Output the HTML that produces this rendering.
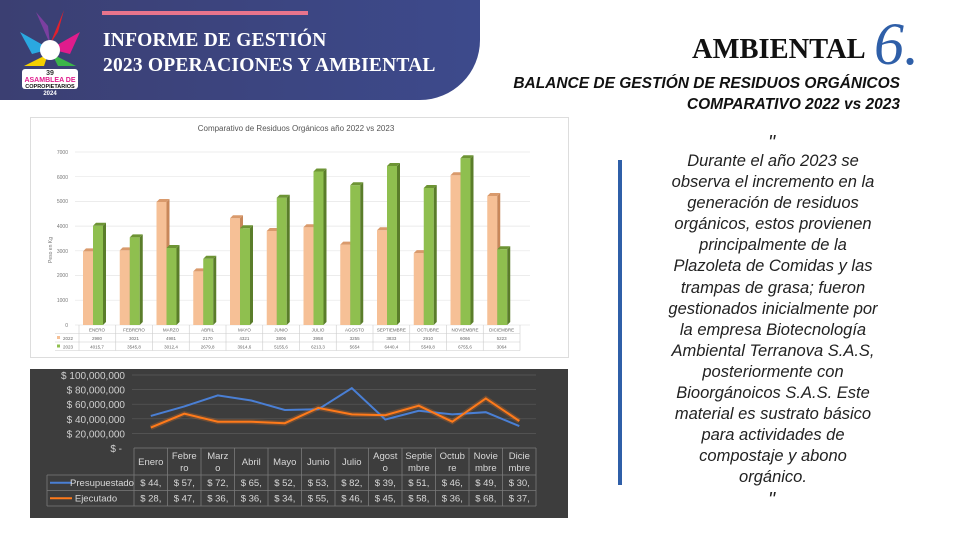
<!DOCTYPE html>
<html><head><meta charset="utf-8"><style>
*{margin:0;padding:0;box-sizing:border-box}
body{width:961px;height:536px;background:#fff;position:relative;overflow:hidden;font-family:"Liberation Sans",sans-serif}
.hdr{position:absolute;left:0;top:0;width:480px;height:100px;background:linear-gradient(90deg,#3b3f72,#3d4a8c);border-bottom-right-radius:60px}
.pink{position:absolute;left:102px;top:11px;width:206px;height:4px;background:#e8748c}
.ht{position:absolute;left:103px;top:28px;color:#fff;font-family:"Liberation Serif",serif;font-weight:bold;font-size:19.5px;line-height:25px;letter-spacing:.2px}
.amb{position:absolute;left:692px;top:34px;font-family:"Liberation Serif",serif;font-weight:bold;font-size:28.5px;color:#111}
.six{position:absolute;left:874px;top:10px;font-family:"Liberation Serif",serif;font-style:italic;font-size:60px;color:#2f5fa8}
.sub{position:absolute;right:61px;top:73px;text-align:right;font-style:italic;font-weight:bold;font-size:15.5px;line-height:21px;color:#111}
.q{position:absolute;left:643px;width:260px;top:151px;text-align:center;font-style:italic;font-size:16.5px;line-height:21.1px;color:#222;white-space:nowrap}
.bar{position:absolute;left:618px;top:160px;width:4px;height:325px;background:#2f5fa8}
.qm{position:absolute;font-style:italic;font-size:20px;color:#222}
</style></head><body>
<div class="hdr"></div>
<div class="pink"></div>
<svg style="position:absolute;left:14px;top:4px" width="72" height="92">
<path d="M36 40 L22 8 L34 22Z" fill="#7b3fa0"/><path d="M36 40 L50 6 L44 28Z" fill="#e2202c"/>
<path d="M36 45 L6 28 L18 50Z" fill="#2aa8e0"/><path d="M36 45 L66 28 L56 50Z" fill="#e01c8c"/>
<path d="M34 50 L10 62 L30 62Z" fill="#f5d000"/><path d="M38 50 L62 62 L44 62Z" fill="#3bb54a"/>
<circle cx="36" cy="46" r="10" fill="#fff"/>
<rect x="8" y="65" width="56" height="20" fill="#fff" rx="3"/>
<text x="36" y="71" font-size="7" fill="#333" text-anchor="middle" font-weight="bold">39</text>
<text x="36" y="78" font-size="7" fill="#e01c8c" text-anchor="middle" font-weight="bold">ASAMBLEA DE</text>
<text x="36" y="84" font-size="5.5" fill="#111" text-anchor="middle" font-weight="bold">COPROPIETARIOS</text>
<text x="36" y="91" font-size="6" fill="#fff" text-anchor="middle" font-weight="bold">2024</text>
</svg>
<div class="ht">INFORME DE GESTIÓN<br>2023 OPERACIONES Y AMBIENTAL</div>
<div class="amb">AMBIENTAL</div><div class="six">6.</div>
<div class="sub">BALANCE DE GESTIÓN DE RESIDUOS ORGÁNICOS<br>COMPARATIVO 2022 vs 2023</div>
<div class="qm" style="left:768px;top:132px">"</div>
<div class="bar"></div>
<div class="q">Durante el año 2023 se<br>observa el incremento en la<br>generación de residuos<br>orgánicos, estos provienen<br>principalmente de la<br>Plazoleta de Comidas y las<br>trampas de grasa; fueron<br>gestionados inicialmente por<br>la empresa Biotecnología<br>Ambiental Terranova S.A.S,<br>posteriormente con<br>Bioorgánoicos S.A.S. Este<br>material es sustrato básico<br>para actividades de<br>compostaje y abono<br>orgánico.</div>
<div class="qm" style="left:768px;top:489px">"</div>

<svg style="position:absolute;left:0;top:0" width="961" height="536" font-family="Liberation Sans,sans-serif">
<rect x="30.5" y="117.5" width="538" height="240" fill="#fff" stroke="#ddd"/>
<text x="296" y="131" font-size="8" fill="#555" text-anchor="middle">Comparativo de Residuos Orgánicos año 2022 vs 2023</text>
<g stroke="#e6e6e6" stroke-width="0.7">
<line x1="75" x2="530" y1="152" y2="152"/><line x1="75" x2="530" y1="176.7" y2="176.7"/><line x1="75" x2="530" y1="201.4" y2="201.4"/><line x1="75" x2="530" y1="226.1" y2="226.1"/><line x1="75" x2="530" y1="250.8" y2="250.8"/><line x1="75" x2="530" y1="275.5" y2="275.5"/><line x1="75" x2="530" y1="300.2" y2="300.2"/><line x1="75" x2="530" y1="325" y2="325"/>
</g>
<g font-size="5" fill="#777" text-anchor="end">
<text x="68" y="154">7000</text><text x="68" y="179">6000</text><text x="68" y="203">5000</text><text x="68" y="228">4000</text><text x="68" y="253">3000</text><text x="68" y="277">2000</text><text x="68" y="302">1000</text><text x="68" y="327">0</text>
</g>
<text x="52" y="250" font-size="5" fill="#777" transform="rotate(-90 52 250)" text-anchor="middle">Peso en Kg</text>
<g>
<g transform="translate(79,0)"><rect x="4" y="251.4" width="10" height="73.6" fill="#f6c096"/><path d="M14 251.4 l3 -3 v73.6 l-3 3z" fill="#c8875a"/><path d="M4 251.4 l3 -3 h10 l-3 3z" fill="#d99a6c"/><rect x="14" y="225.8" width="10" height="99.2" fill="#8fbf4f"/><path d="M24 225.8 l3 -3 v99.2 l-3 3z" fill="#5a7d2a"/><path d="M14 225.8 l3 -3 h10 l-3 3z" fill="#6d9434"/></g>
<g transform="translate(115.75,0)"><rect x="4" y="250.4" width="10" height="74.6" fill="#f6c096"/><path d="M14 250.4 l3 -3 v74.6 l-3 3z" fill="#c8875a"/><path d="M4 250.4 l3 -3 h10 l-3 3z" fill="#d99a6c"/><rect x="14" y="237.4" width="10" height="87.6" fill="#8fbf4f"/><path d="M24 237.4 l3 -3 v87.6 l-3 3z" fill="#5a7d2a"/><path d="M14 237.4 l3 -3 h10 l-3 3z" fill="#6d9434"/></g>
<g transform="translate(152.5,0)"><rect x="4" y="202" width="10" height="123" fill="#f6c096"/><path d="M14 202 l3 -3 v123 l-3 3z" fill="#c8875a"/><path d="M4 202 l3 -3 h10 l-3 3z" fill="#d99a6c"/><rect x="14" y="248" width="10" height="77" fill="#8fbf4f"/><path d="M24 248 l3 -3 v77 l-3 3z" fill="#5a7d2a"/><path d="M14 248 l3 -3 h10 l-3 3z" fill="#6d9434"/></g>
<g transform="translate(189.25,0)"><rect x="4" y="271.4" width="10" height="53.6" fill="#f6c096"/><path d="M14 271.4 l3 -3 v53.6 l-3 3z" fill="#c8875a"/><path d="M4 271.4 l3 -3 h10 l-3 3z" fill="#d99a6c"/><rect x="14" y="258.8" width="10" height="66.2" fill="#8fbf4f"/><path d="M24 258.8 l3 -3 v66.2 l-3 3z" fill="#5a7d2a"/><path d="M14 258.8 l3 -3 h10 l-3 3z" fill="#6d9434"/></g>
<g transform="translate(226,0)"><rect x="4" y="218.3" width="10" height="106.7" fill="#f6c096"/><path d="M14 218.3 l3 -3 v106.7 l-3 3z" fill="#c8875a"/><path d="M4 218.3 l3 -3 h10 l-3 3z" fill="#d99a6c"/><rect x="14" y="228.3" width="10" height="96.7" fill="#8fbf4f"/><path d="M24 228.3 l3 -3 v96.7 l-3 3z" fill="#5a7d2a"/><path d="M14 228.3 l3 -3 h10 l-3 3z" fill="#6d9434"/></g>
<g transform="translate(262.75,0)"><rect x="4" y="231" width="10" height="94" fill="#f6c096"/><path d="M14 231 l3 -3 v94 l-3 3z" fill="#c8875a"/><path d="M4 231 l3 -3 h10 l-3 3z" fill="#d99a6c"/><rect x="14" y="197.7" width="10" height="127.3" fill="#8fbf4f"/><path d="M24 197.7 l3 -3 v127.3 l-3 3z" fill="#5a7d2a"/><path d="M14 197.7 l3 -3 h10 l-3 3z" fill="#6d9434"/></g>
<g transform="translate(299.5,0)"><rect x="4" y="227.2" width="10" height="97.8" fill="#f6c096"/><path d="M14 227.2 l3 -3 v97.8 l-3 3z" fill="#c8875a"/><path d="M4 227.2 l3 -3 h10 l-3 3z" fill="#d99a6c"/><rect x="14" y="171.5" width="10" height="153.5" fill="#8fbf4f"/><path d="M24 171.5 l3 -3 v153.5 l-3 3z" fill="#5a7d2a"/><path d="M14 171.5 l3 -3 h10 l-3 3z" fill="#6d9434"/></g>
<g transform="translate(336.25,0)"><rect x="4" y="244.6" width="10" height="80.4" fill="#f6c096"/><path d="M14 244.6 l3 -3 v80.4 l-3 3z" fill="#c8875a"/><path d="M4 244.6 l3 -3 h10 l-3 3z" fill="#d99a6c"/><rect x="14" y="185.3" width="10" height="139.7" fill="#8fbf4f"/><path d="M24 185.3 l3 -3 v139.7 l-3 3z" fill="#5a7d2a"/><path d="M14 185.3 l3 -3 h10 l-3 3z" fill="#6d9434"/></g>
<g transform="translate(373,0)"><rect x="4" y="230.3" width="10" height="94.7" fill="#f6c096"/><path d="M14 230.3 l3 -3 v94.7 l-3 3z" fill="#c8875a"/><path d="M4 230.3 l3 -3 h10 l-3 3z" fill="#d99a6c"/><rect x="14" y="166" width="10" height="159" fill="#8fbf4f"/><path d="M24 166 l3 -3 v159 l-3 3z" fill="#5a7d2a"/><path d="M14 166 l3 -3 h10 l-3 3z" fill="#6d9434"/></g>
<g transform="translate(409.75,0)"><rect x="4" y="253.1" width="10" height="71.9" fill="#f6c096"/><path d="M14 253.1 l3 -3 v71.9 l-3 3z" fill="#c8875a"/><path d="M4 253.1 l3 -3 h10 l-3 3z" fill="#d99a6c"/><rect x="14" y="188" width="10" height="137" fill="#8fbf4f"/><path d="M24 188 l3 -3 v137 l-3 3z" fill="#5a7d2a"/><path d="M14 188 l3 -3 h10 l-3 3z" fill="#6d9434"/></g>
<g transform="translate(446.5,0)"><rect x="4" y="175.2" width="10" height="149.8" fill="#f6c096"/><path d="M14 175.2 l3 -3 v149.8 l-3 3z" fill="#c8875a"/><path d="M4 175.2 l3 -3 h10 l-3 3z" fill="#d99a6c"/><rect x="14" y="158.2" width="10" height="166.8" fill="#8fbf4f"/><path d="M24 158.2 l3 -3 v166.8 l-3 3z" fill="#5a7d2a"/><path d="M14 158.2 l3 -3 h10 l-3 3z" fill="#6d9434"/></g>
<g transform="translate(483.25,0)"><rect x="4" y="196" width="10" height="129" fill="#f6c096"/><path d="M14 196 l3 -3 v129 l-3 3z" fill="#c8875a"/><path d="M4 196 l3 -3 h10 l-3 3z" fill="#d99a6c"/><rect x="14" y="249.3" width="10" height="75.7" fill="#8fbf4f"/><path d="M24 249.3 l3 -3 v75.7 l-3 3z" fill="#5a7d2a"/><path d="M14 249.3 l3 -3 h10 l-3 3z" fill="#6d9434"/></g>
</g>
<g stroke="#ccc" stroke-width="0.6" fill="none">
<line x1="55" x2="520" y1="333.5" y2="333.5"/><line x1="55" x2="520" y1="342" y2="342"/><line x1="55" x2="520" y1="350.5" y2="350.5"/>
<line x1="79" x2="79" y1="325" y2="350.5"/><line x1="115.75" x2="115.75" y1="325" y2="350.5"/><line x1="152.5" x2="152.5" y1="325" y2="350.5"/><line x1="189.25" x2="189.25" y1="325" y2="350.5"/><line x1="226" x2="226" y1="325" y2="350.5"/><line x1="262.75" x2="262.75" y1="325" y2="350.5"/><line x1="299.5" x2="299.5" y1="325" y2="350.5"/><line x1="336.25" x2="336.25" y1="325" y2="350.5"/><line x1="373" x2="373" y1="325" y2="350.5"/><line x1="409.75" x2="409.75" y1="325" y2="350.5"/><line x1="446.5" x2="446.5" y1="325" y2="350.5"/><line x1="483.25" x2="483.25" y1="325" y2="350.5"/><line x1="520" x2="520" y1="325" y2="350.5"/>
</g>
<rect x="57" y="336" width="3" height="3" fill="#f6c096"/><rect x="57" y="344.5" width="3" height="3" fill="#8fbf4f"/>
<g font-size="4.5" fill="#666" text-anchor="middle">
<text x="68" y="340">2022</text><text x="68" y="348.5">2023</text>
<text x="97" y="331.5">ENERO</text><text x="134" y="331.5">FEBRERO</text><text x="171" y="331.5">MARZO</text><text x="207.6" y="331.5">ABRIL</text><text x="244.4" y="331.5">MAYO</text><text x="281" y="331.5">JUNIO</text><text x="318" y="331.5">JULIO</text><text x="354.6" y="331.5">AGOSTO</text><text x="391.4" y="331.5">SEPTIEMBRE</text><text x="428" y="331.5">OCTUBRE</text><text x="465" y="331.5">NOVIEMBRE</text><text x="501.6" y="331.5">DICIEMBRE</text>
<text x="97" y="340">2980</text><text x="134" y="340">3021</text><text x="171" y="340">4981</text><text x="207.6" y="340">2170</text><text x="244.4" y="340">4321</text><text x="281" y="340">3806</text><text x="318" y="340">3958</text><text x="354.6" y="340">3255</text><text x="391.4" y="340">3833</text><text x="428" y="340">2910</text><text x="465" y="340">6066</text><text x="501.6" y="340">5223</text>
<text x="97" y="348.5">4015,7</text><text x="134" y="348.5">3545,8</text><text x="171" y="348.5">3012,4</text><text x="207.6" y="348.5">2679,8</text><text x="244.4" y="348.5">3914,6</text><text x="281" y="348.5">5155,6</text><text x="318" y="348.5">6213,3</text><text x="354.6" y="348.5">5654</text><text x="391.4" y="348.5">6440,4</text><text x="428" y="348.5">5549,8</text><text x="465" y="348.5">6755,6</text><text x="501.6" y="348.5">3064</text>
</g>

<rect x="30" y="369" width="538" height="149" fill="#3d3d3d"/>
<g stroke="#5a5a5a" stroke-width="0.7">
<line x1="132" x2="536" y1="375" y2="375"/><line x1="132" x2="536" y1="389.6" y2="389.6"/><line x1="132" x2="536" y1="404.2" y2="404.2"/><line x1="132" x2="536" y1="418.8" y2="418.8"/><line x1="132" x2="536" y1="433.4" y2="433.4"/>
</g>
<g font-size="10" fill="#d0d0d0" text-anchor="end">
<text x="125" y="379">$ 100,000,000</text><text x="125" y="393.6">$ 80,000,000</text><text x="125" y="408.2">$ 60,000,000</text><text x="125" y="422.8">$ 40,000,000</text><text x="125" y="437.4">$ 20,000,000</text><text x="122" y="452">$ -</text>
</g>
<polyline fill="none" stroke="#ff7a1a" stroke-width="5" stroke-opacity="0.25" points="150.8,427.6 184.3,413.7 217.8,421.7 251.3,421.7 284.8,423.2 318.3,407.9 351.8,414.4 385.3,415.2 418.8,405.7 452.3,421.7 485.8,398.4 519.3,421"/>
<polyline fill="none" stroke="#4a7fd4" stroke-width="2" points="150.8,415.9 184.3,406.4 217.8,395.4 251.3,400.5 284.8,410 318.3,409.3 351.8,388.1 385.3,419.5 418.8,410.8 452.3,414.4 485.8,412.2 519.3,426.1"/>
<polyline fill="none" stroke="#ff7a1a" stroke-width="2" points="150.8,427.6 184.3,413.7 217.8,421.7 251.3,421.7 284.8,423.2 318.3,407.9 351.8,414.4 385.3,415.2 418.8,405.7 452.3,421.7 485.8,398.4 519.3,421"/>
<g stroke="#7a7a7a" stroke-width="0.8" fill="none">
<line x1="134" x2="536" y1="448" y2="448"/><line x1="47" x2="536" y1="475" y2="475"/><line x1="47" x2="536" y1="490.5" y2="490.5"/><line x1="47" x2="536" y1="506" y2="506"/>
<line x1="47" x2="47" y1="475" y2="506"/><line x1="134" x2="134" y1="448" y2="506"/><line x1="167.5" x2="167.5" y1="448" y2="506"/><line x1="201" x2="201" y1="448" y2="506"/><line x1="234.5" x2="234.5" y1="448" y2="506"/><line x1="268" x2="268" y1="448" y2="506"/><line x1="301.5" x2="301.5" y1="448" y2="506"/><line x1="335" x2="335" y1="448" y2="506"/><line x1="368.5" x2="368.5" y1="448" y2="506"/><line x1="402" x2="402" y1="448" y2="506"/><line x1="435.5" x2="435.5" y1="448" y2="506"/><line x1="469" x2="469" y1="448" y2="506"/><line x1="502.5" x2="502.5" y1="448" y2="506"/><line x1="536" x2="536" y1="448" y2="506"/>
</g>
<line x1="50" x2="72" y1="482.7" y2="482.7" stroke="#4a7fd4" stroke-width="2"/>
<line x1="50" x2="72" y1="498.2" y2="498.2" stroke="#ff7a1a" stroke-width="2"/>
<g font-size="9.5" fill="#d8d8d8" text-anchor="middle">
<text x="102" y="486" font-size="9.5">Presupuestado</text><text x="96" y="501.5">Ejecutado</text>
<text x="150.8" y="465">Enero</text><text x="184.3" y="459">Febre</text><text x="184.3" y="471">ro</text><text x="217.8" y="459">Marz</text><text x="217.8" y="471">o</text><text x="251.3" y="465">Abril</text><text x="284.8" y="465">Mayo</text><text x="318.3" y="465">Junio</text><text x="351.8" y="465">Julio</text><text x="385.3" y="459">Agost</text><text x="385.3" y="471">o</text><text x="418.8" y="459">Septie</text><text x="418.8" y="471">mbre</text><text x="452.3" y="459">Octub</text><text x="452.3" y="471">re</text><text x="485.8" y="459">Novie</text><text x="485.8" y="471">mbre</text><text x="519.3" y="459">Dicie</text><text x="519.3" y="471">mbre</text>
<text x="150.8" y="486">$ 44,</text><text x="184.3" y="486">$ 57,</text><text x="217.8" y="486">$ 72,</text><text x="251.3" y="486">$ 65,</text><text x="284.8" y="486">$ 52,</text><text x="318.3" y="486">$ 53,</text><text x="351.8" y="486">$ 82,</text><text x="385.3" y="486">$ 39,</text><text x="418.8" y="486">$ 51,</text><text x="452.3" y="486">$ 46,</text><text x="485.8" y="486">$ 49,</text><text x="519.3" y="486">$ 30,</text>
<text x="150.8" y="501.5">$ 28,</text><text x="184.3" y="501.5">$ 47,</text><text x="217.8" y="501.5">$ 36,</text><text x="251.3" y="501.5">$ 36,</text><text x="284.8" y="501.5">$ 34,</text><text x="318.3" y="501.5">$ 55,</text><text x="351.8" y="501.5">$ 46,</text><text x="385.3" y="501.5">$ 45,</text><text x="418.8" y="501.5">$ 58,</text><text x="452.3" y="501.5">$ 36,</text><text x="485.8" y="501.5">$ 68,</text><text x="519.3" y="501.5">$ 37,</text>
</g>
</svg>
</body></html>
